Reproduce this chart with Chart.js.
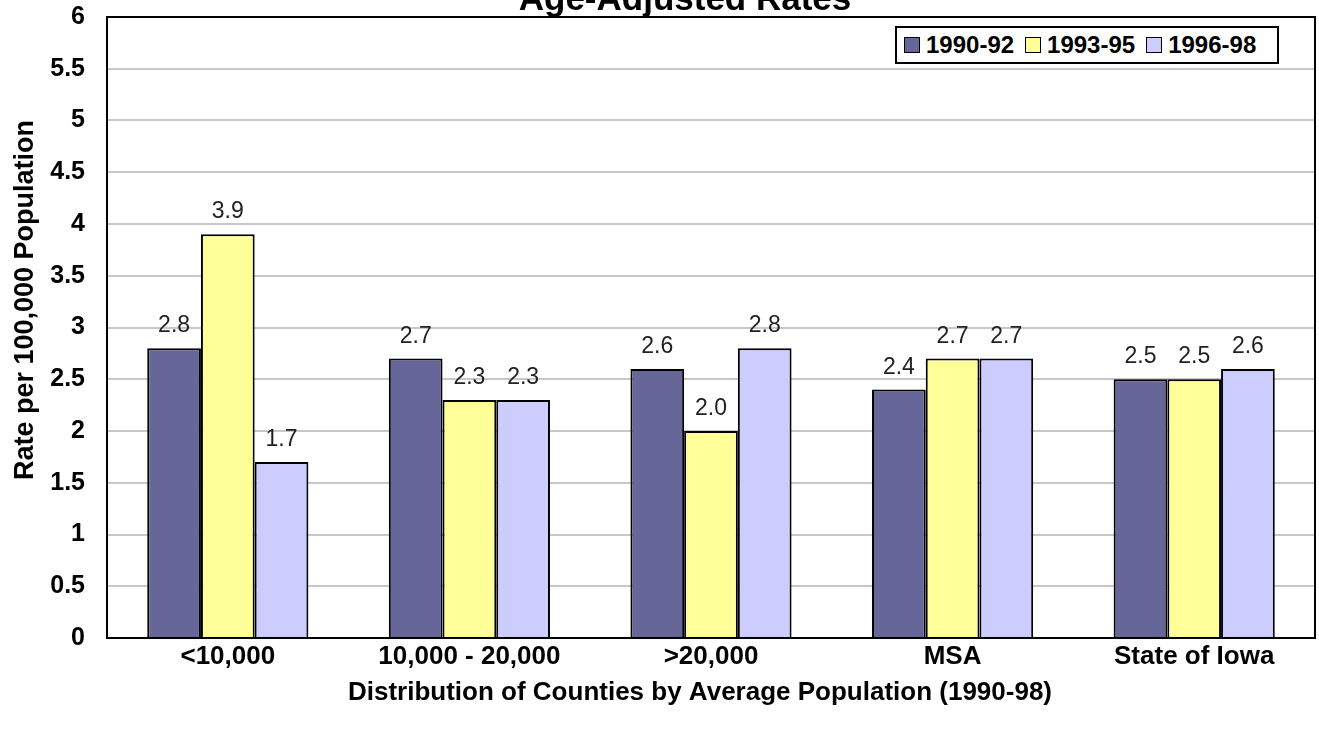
<!DOCTYPE html>
<html>
<head>
<meta charset="utf-8">
<script src="https://cdn.jsdelivr.net/npm/chart.js@4"></script>
<style>
  body { margin: 0; background: #fff; }
  #wrap { position: relative; width: 1319px; height: 730px; }
  #legend {
    position: absolute; left: 895px; top: 26px; width: 373px; height: 34px;
    border: 2px solid #000; background: #fff; display: flex; align-items: center;
    font: bold 24px "Liberation Sans", Arial, sans-serif; padding-left: 7px; box-sizing: content-box;
  }
  #legend .item { display: flex; align-items: center; margin-right: 11px; }
  #legend .box { width: 14px; height: 14px; border: 1.5px solid #000; margin-right: 6px; }
</style>
</head>
<body>
<div id="wrap">
  <canvas id="chart" width="1319" height="730"></canvas>
  <div id="legend"></div>
</div>
<script>
const categories = ['<10,000', '10,000 - 20,000', '>20,000', 'MSA', 'State of Iowa'];
const seriesLabels = ['1990-92', '1993-95', '1996-98'];
const rates1990 = [2.8, 2.7, 2.6, 2.4, 2.5];
const rates1993 = [3.9, 2.3, 2.0, 2.7, 2.5];
const rates1996 = [1.7, 2.3, 2.8, 2.7, 2.6];
const colors = ['#666699', '#ffff99', '#ccccff'];

const font = '"Liberation Sans", Arial, sans-serif';

const datasets = [rates1990, rates1993, rates1996].map(function (data, i) {
    return {
        label: seriesLabels[i],
        data: data,
        backgroundColor: colors[i],
        borderColor: '#000',
        borderWidth: 2,
        categoryPercentage: 0.667,
        barPercentage: 1.0,
    };
});

// frame round the plot, value labels and the titles
const extras = {
    id: 'extras',
    afterDatasetsDraw(chart) {
        const ctx = chart.ctx;
        const a = chart.chartArea;
        ctx.save();
        ctx.strokeStyle = '#000';
        ctx.lineWidth = 2;
        ctx.strokeRect(a.left, a.top, a.right - a.left, a.bottom - a.top);

        ctx.fillStyle = '#222';
        ctx.font = '23px ' + font;
        ctx.textAlign = 'center';
        ctx.textBaseline = 'alphabetic';
        chart.data.datasets.forEach(function (ds, i) {
            chart.getDatasetMeta(i).data.forEach(function (bar, j) {
                ctx.fillText(ds.data[j].toFixed(1), bar.x, bar.y - 16);
            });
        });

        ctx.fillStyle = '#000';
        ctx.font = 'bold 35px ' + font;
        ctx.fillText('Age-Adjusted Rates', 685, 10);

        ctx.font = 'bold 26px ' + font;
        ctx.fillText('Distribution of Counties by Average Population (1990-98)', 700, 700);

        ctx.translate(33, 300);
        ctx.rotate(-Math.PI / 2);
        ctx.font = 'bold 27px ' + font;
        ctx.fillText('Rate per 100,000 Population', 0, 0);
        ctx.restore();
    }
};

new Chart(document.getElementById('chart'), {
    type: 'bar',
    data: { labels: categories, datasets: datasets },
    options: {
        responsive: false,
        animation: false,
        layout: { padding: { top: 17, right: 4, left: 0, bottom: 0 } },
        plugins: { legend: { display: false }, tooltip: { enabled: false } },
        scales: {
            x: {
                grid: { display: false, drawTicks: false },
                border: { color: '#000', width: 2 },
                ticks: { color: '#000', font: { family: font, size: 26, weight: 'bold' }, padding: 3, maxRotation: 0 },
                afterFit(scale) { scale.height = 92; scale.paddingLeft = 0; scale.paddingRight = 0; },
            },
            y: {
                min: 0,
                max: 6,
                ticks: {
                    stepSize: 0.5,
                    color: '#000',
                    font: { family: font, size: 25, weight: 'bold' },
                    padding: 22,
                    callback: function (value) { return String(value); },
                },
                grid: { color: '#c8c8c8', lineWidth: 2, drawTicks: false },
                border: { color: '#000', width: 2 },
                afterFit(scale) { scale.width = 107; scale.paddingTop = 0; scale.paddingBottom = 0; },
            },
        },
    },
    plugins: [extras],
});

const legend = document.getElementById('legend');
seriesLabels.forEach(function (label, i) {
    const item = document.createElement('div');
    item.className = 'item';
    const box = document.createElement('span');
    box.className = 'box';
    box.style.background = colors[i];
    const text = document.createElement('span');
    text.textContent = label;
    item.appendChild(box);
    item.appendChild(text);
    legend.appendChild(item);
});
</script>
</body>
</html>
